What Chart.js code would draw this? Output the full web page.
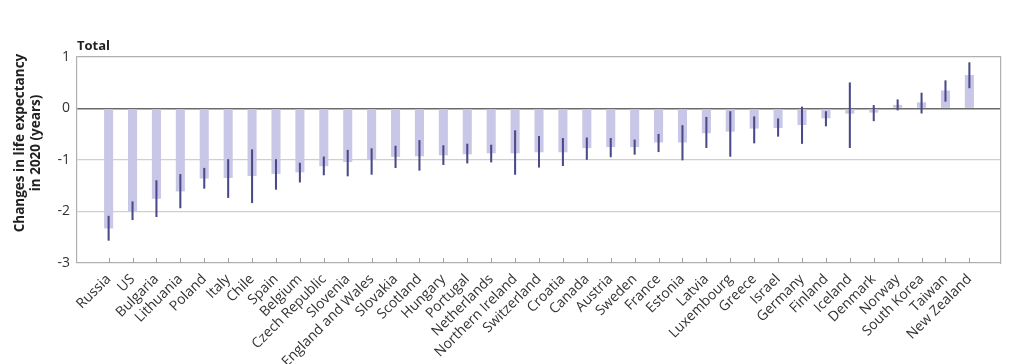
<!DOCTYPE html>
<html>
<head>
<meta charset="utf-8">
<script src="https://cdn.jsdelivr.net/npm/chart.js@4.4.1/dist/chart.umd.min.js"></script>
<style>
  html, body { margin: 0; padding: 0; background: #fff; }
  #wrap { position: relative; width: 1024px; height: 364px; }
</style>
</head>
<body>
<div id="wrap"><canvas id="lifeChart" width="1024" height="364"></canvas></div>
<script>
// ---------- data ----------
const countries = ["Russia", "US", "Bulgaria", "Lithuania", "Poland", "Italy", "Chile", "Spain",
  "Belgium", "Czech Republic", "Slovenia", "England and Wales", "Slovakia", "Scotland", "Hungary",
  "Portugal", "Netherlands", "Northern Ireland", "Switzerland", "Croatia", "Canada", "Austria",
  "Sweden", "France", "Estonia", "Latvia", "Luxembourg", "Greece", "Israel", "Germany", "Finland",
  "Iceland", "Denmark", "Norway", "South Korea", "Taiwan", "New Zealand"];

const change = [-2.33, -1.99, -1.75, -1.61, -1.36, -1.35, -1.31, -1.27, -1.24, -1.12, -1.04,
  -1.00, -0.94, -0.93, -0.91, -0.89, -0.87, -0.87, -0.85, -0.85, -0.77, -0.75, -0.75, -0.66,
  -0.66, -0.48, -0.45, -0.39, -0.38, -0.32, -0.19, -0.10, -0.08, 0.07, 0.12, 0.35, 0.65];

const lower = [-2.56, -2.16, -2.10, -1.93, -1.55, -1.73, -1.83, -1.57, -1.43, -1.29, -1.31,
  -1.28, -1.15, -1.20, -1.09, -1.06, -1.04, -1.28, -1.14, -1.11, -0.99, -0.94, -0.89, -0.84,
  -1.00, -0.76, -0.93, -0.67, -0.54, -0.68, -0.34, -0.76, -0.24, -0.03, -0.09, 0.14, 0.40];

const upper = [-2.09, -1.81, -1.40, -1.28, -1.16, -0.99, -0.80, -0.99, -1.06, -0.94, -0.81,
  -0.78, -0.73, -0.62, -0.72, -0.69, -0.71, -0.43, -0.54, -0.58, -0.57, -0.58, -0.61, -0.50,
  -0.33, -0.17, -0.06, -0.16, -0.20, 0.03, -0.06, 0.50, 0.06, 0.17, 0.30, 0.54, 0.89];

const yTicks = [1, 0, -1, -2, -3];

const barColor = "#c9c7e7";
const errColor = "#4b4a88";
const frameColor = "#b0b0b0";
const labelFont = "'Open Sans', 'DejaVu Sans', sans-serif";

// ---------- ticks on the bottom edge + titles ----------
const extrasPlugin = {
  id: "extras",
  afterDraw(chart) {
    const ctx = chart.ctx;
    const x = chart.scales.x;
    const bottom = Math.round(chart.chartArea.bottom);
    ctx.save();
    ctx.fillStyle = "#a0a0a0";
    countries.forEach((c, i) => {
      ctx.fillRect(Math.round(x.getPixelForValue(i)), bottom - 5, 1, 5);
    });
    ctx.fillStyle = "#222";
    ctx.font = "bold 13px " + labelFont;
    ctx.textBaseline = "alphabetic";
    ctx.textAlign = "left";
    ctx.fillText("Total", 77, 50);
    ctx.font = "bold 13.5px " + labelFont;
    ctx.translate(28, 143);
    ctx.rotate(-Math.PI / 2);
    ctx.textAlign = "center";
    ctx.textBaseline = "middle";
    ctx.fillText("Changes in life expectancy", 0, -8);
    ctx.fillText("in 2020 (years)", 0, 8);
    ctx.restore();
  }
};

// ---------- chart ----------
new Chart(document.getElementById("lifeChart"), {
  type: "bar",
  data: {
    datasets: [
      {
        label: "Change",
        data: countries.map((c, i) => ({ x: i, y: change[i] })),
        backgroundColor: barColor,
        categoryPercentage: 1,
        barPercentage: 0.38,
        grouped: false,
        order: 2
      },
      {
        label: "95% CI",
        data: countries.map((c, i) => ({ x: i, y: [lower[i], upper[i]] })),
        backgroundColor: errColor,
        barThickness: 1.4,
        grouped: false,
        order: 1
      }
    ]
  },
  options: {
    responsive: false,
    animation: false,
    layout: { padding: { left: 0, right: 23, top: 57, bottom: 0 } },
    plugins: {
      legend: { display: false },
      tooltip: { enabled: false }
    },
    scales: {
      x: {
        type: "linear",
        min: -0.8,
        max: countries.length - 0.2,
        grid: { display: false },
        border: { display: false },
        afterBuildTicks(scale) { scale.ticks = countries.map((c, i) => ({ value: i })); },
        ticks: {
          autoSkip: false,
          maxRotation: 45,
          minRotation: 45,
          padding: 0,
          color: "#333",
          font: { family: labelFont, size: 14 },
          callback: v => countries[v]
        },
        afterFit(scale) { scale.height = 101; }
      },
      y: {
        min: -3,
        max: 1,
        grid: {
          drawTicks: false,
          lineWidth: c => (c.tick && c.tick.value === 0 ? 1.4 : 1.2),
          color: c => {
            const v = c.tick ? c.tick.value : null;
            if (v === 0) return "#6a6a6a";
            if (v === 1 || v === -3) return frameColor;
            return "#cfcfcf";
          }
        },
        border: { display: true, color: frameColor, width: 1.2 },
        afterBuildTicks(scale) { scale.ticks = yTicks.map(v => ({ value: v })); },
        ticks: {
          padding: 7,
          color: "#333",
          font: { family: labelFont, size: 14 },
          callback: v => String(v)
        },
        afterFit(scale) { scale.width = 77; }
      },
      yRight: {
        position: "right",
        min: -3,
        max: 1,
        grid: { display: false, drawTicks: false },
        border: { display: true, color: frameColor, width: 1.2 },
        ticks: { display: false },
        afterFit(scale) { scale.width = 0; }
      }
    }
  },
  plugins: [extrasPlugin]
});
</script>
</body>
</html>
